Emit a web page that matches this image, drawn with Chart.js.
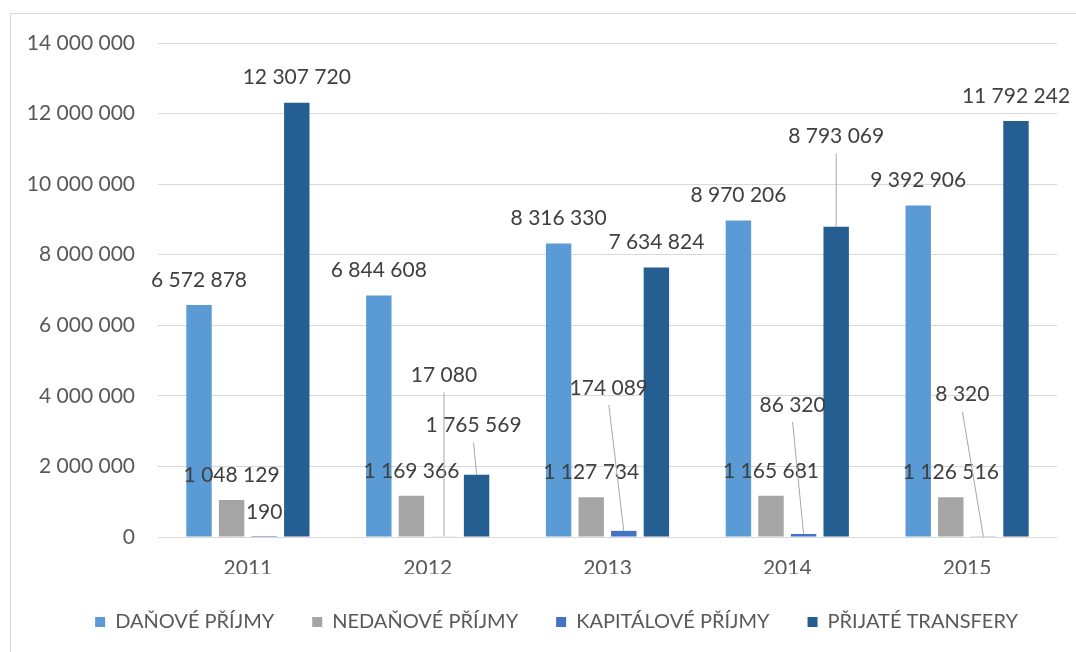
<!DOCTYPE html>
<html>
<head>
<meta charset="utf-8">
<script src="https://cdn.jsdelivr.net/npm/chart.js@4"></script>
<style>
    body { margin: 0; background: #fff; overflow: hidden; }
    #frame {
        position: absolute; left: 10px; top: 13px; width: 1200px; height: 800px;
        border-left: 1px solid #D9D9D9; border-top: 1px solid #D9D9D9;
    }
    #chart { position: absolute; left: 0; top: 0; }
</style>
</head>
<body>
<div id="frame"></div>
<canvas id="chart" width="1076" height="652"></canvas>
<script>
// Data
const years = ['2011', '2012', '2013', '2014', '2015'];
const danove = [6572878, 6844608, 8316330, 8970206, 9392906];
const nedanove = [1048129, 1169366, 1127734, 1165681, 1126516];
const kapitalove = [190, 17080, 174089, 86320, 8320];
const transfery = [12307720, 1765569, 7634824, 8793069, 11792242];
const yMax = 14000000;
const yStep = 2000000;

const fontName = 'Lato';

function fmt(v) {
    return String(v).replace(/\B(?=(\d{3})+(?!\d))/g, ' ');
}

// labels that were dragged away from their bar: [dataset, point] -> dx, dy, leader line
const movedLabels = {
    '2,1': { dx: 0, dy: -136, line: true },
    '2,2': { dx: -15, dy: -118, line: true },
    '2,3': { dx: -11, dy: -104, line: true },
    '2,4': { dx: -21, dy: -117, line: true },
    '3,1': { dx: -3, dy: -24, line: true },
    '3,3': { dx: 0, dy: -65, line: true }
};

const valueLabels = {
    id: 'valueLabels',
    afterDatasetsDraw(chart) {
        const ctx = chart.ctx;
        ctx.save();
        ctx.font = '21px ' + fontName;
        ctx.textAlign = 'center';
        ctx.textBaseline = 'middle';
        chart.data.datasets.forEach((ds, di) => {
            const meta = chart.getDatasetMeta(di);
            meta.data.forEach((bar, i) => {
                const m = movedLabels[di + ',' + i] || { dx: 0, dy: 0, line: false };
                const lx = bar.x + m.dx;
                const ly = bar.y - 25 + m.dy;
                if (m.line) {
                    ctx.strokeStyle = '#A6A6A6';
                    ctx.lineWidth = 1;
                    ctx.beginPath();
                    ctx.moveTo(lx, ly + 17);
                    ctx.lineTo(bar.x, bar.y);
                    ctx.stroke();
                }
                ctx.fillStyle = '#404040';
                ctx.fillText(fmt(ds.data[i]), lx, ly);
            });
        });
        ctx.restore();
    }
};

// legend in the original sits a bit right of the canvas centre
const legendShift = {
    id: 'legendShift',
    afterLayout(chart) {
        chart.legend.left += 23;
        chart.legend.right += 23;
    }
};

const ctx = document.getElementById('chart').getContext('2d');
const chart = new Chart(ctx, {
    type: 'bar',
    data: {
        labels: years,
        datasets: [
            { label: 'DAŇOVÉ PŘÍJMY', data: danove, backgroundColor: '#5B9BD5' },
            { label: 'NEDAŇOVÉ PŘÍJMY', data: nedanove, backgroundColor: '#A5A5A5' },
            { label: 'KAPITÁLOVÉ PŘÍJMY', data: kapitalove, backgroundColor: '#4472C4' },
            { label: 'PŘIJATÉ TRANSFERY', data: transfery, backgroundColor: '#255E91' }
        ]
    },
    options: {
        responsive: false,
        devicePixelRatio: 1,
        animation: false,
        categoryPercentage: 0.725,
        barPercentage: 0.78,
        layout: { padding: { left: 10, right: 19, top: 43, bottom: 10 } },
        plugins: {
            tooltip: { enabled: false },
            legend: {
                position: 'bottom',
                labels: {
                    boxWidth: 10,
                    boxHeight: 10,
                    padding: 38,
                    color: '#595959',
                    font: { family: fontName, size: 20 }
                }
            }
        },
        scales: {
            x: {
                grid: { display: false },
                border: { display: false },
                ticks: { color: '#595959', padding: 11, font: { family: fontName, size: 21 } },
                afterFit(scale) { scale.height = 37; }
            },
            y: {
                min: 0,
                max: yMax,
                grid: { color: '#D9D9D9', lineWidth: 1, drawTicks: false },
                border: { display: false },
                ticks: {
                    stepSize: yStep,
                    color: '#595959',
                    padding: 23,
                    font: { family: fontName, size: 21 },
                    callback: v => fmt(v)
                },
                afterFit(scale) { scale.width = 148; }
            }
        }
    },
    plugins: [valueLabels, legendShift]
});
</script>
</body>
</html>
